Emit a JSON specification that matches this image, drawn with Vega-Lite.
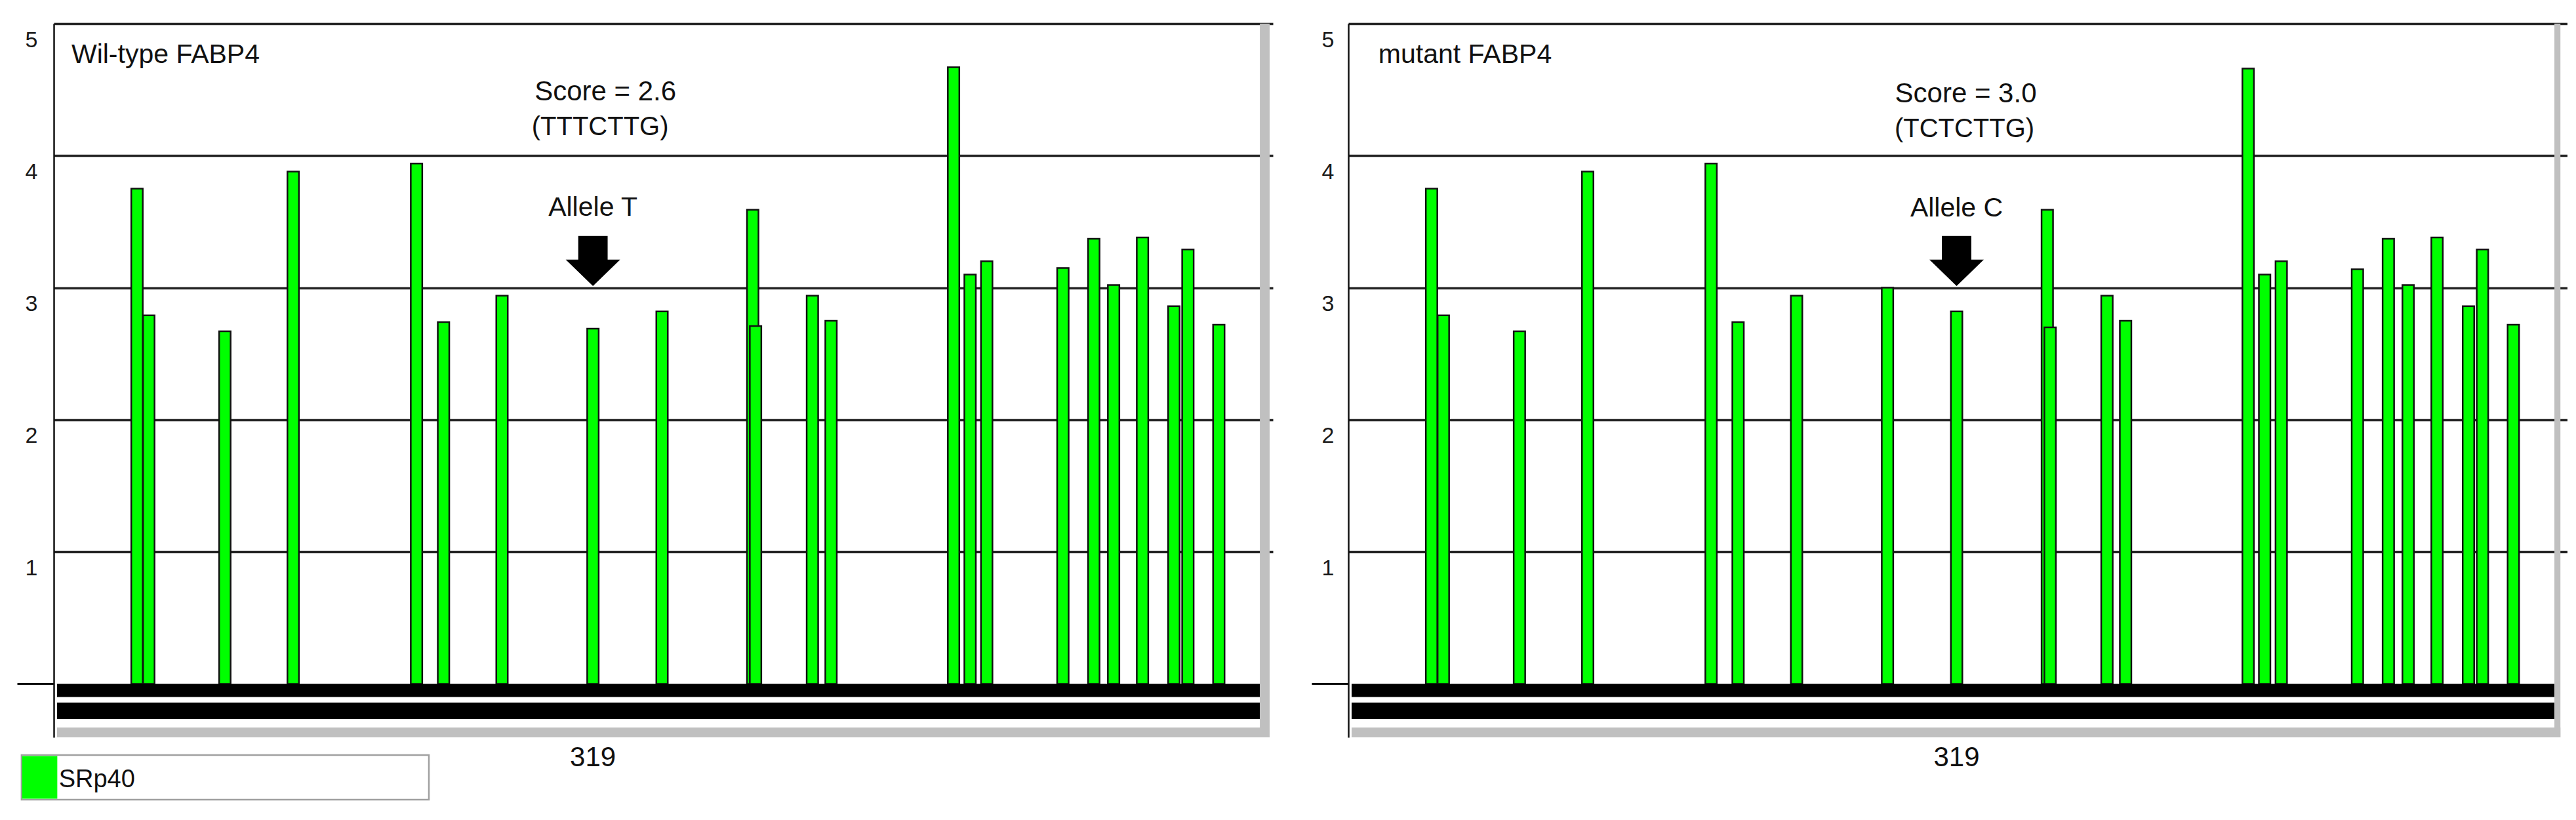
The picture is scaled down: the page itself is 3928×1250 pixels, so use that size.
{
  "$schema": "https://vega.github.io/schema/vega-lite/v6.json",
  "background": "white",
  "padding": {"left": 24, "top": 34, "right": 0, "bottom": 0},
  "spacing": 57,
  "config": {
    "view": {"stroke": null},
    "font": "Liberation Sans",
    "axisX": {"disable": true},
    "text": {"font": "Liberation Sans", "color": "#111111"}
  },
  "datasets": {
    "sites": [
      {"construct": "wild-type", "factor": "SRp40", "position": 6.78, "score": 3.75},
      {"construct": "wild-type", "factor": "SRp40", "position": 7.78, "score": 2.79},
      {"construct": "wild-type", "factor": "SRp40", "position": 14.23, "score": 2.67},
      {"construct": "wild-type", "factor": "SRp40", "position": 20.02, "score": 3.88},
      {"construct": "wild-type", "factor": "SRp40", "position": 30.48, "score": 3.94},
      {"construct": "wild-type", "factor": "SRp40", "position": 32.77, "score": 2.74},
      {"construct": "wild-type", "factor": "SRp40", "position": 37.73, "score": 2.94},
      {"construct": "wild-type", "factor": "SRp40", "position": 45.44, "score": 2.69},
      {"construct": "wild-type", "factor": "SRp40", "position": 51.30, "score": 2.82},
      {"construct": "wild-type", "factor": "SRp40", "position": 58.99, "score": 3.59},
      {"construct": "wild-type", "factor": "SRp40", "position": 59.23, "score": 2.71},
      {"construct": "wild-type", "factor": "SRp40", "position": 64.05, "score": 2.94},
      {"construct": "wild-type", "factor": "SRp40", "position": 65.63, "score": 2.75},
      {"construct": "wild-type", "factor": "SRp40", "position": 76.02, "score": 4.67},
      {"construct": "wild-type", "factor": "SRp40", "position": 77.42, "score": 3.10},
      {"construct": "wild-type", "factor": "SRp40", "position": 78.83, "score": 3.20},
      {"construct": "wild-type", "factor": "SRp40", "position": 85.29, "score": 3.15},
      {"construct": "wild-type", "factor": "SRp40", "position": 87.91, "score": 3.37},
      {"construct": "wild-type", "factor": "SRp40", "position": 89.59, "score": 3.02},
      {"construct": "wild-type", "factor": "SRp40", "position": 92.04, "score": 3.38},
      {"construct": "wild-type", "factor": "SRp40", "position": 94.70, "score": 2.86},
      {"construct": "wild-type", "factor": "SRp40", "position": 95.89, "score": 3.29},
      {"construct": "wild-type", "factor": "SRp40", "position": 98.51, "score": 2.72},
      {"construct": "mutant", "factor": "SRp40", "position": 6.78, "score": 3.75},
      {"construct": "mutant", "factor": "SRp40", "position": 7.78, "score": 2.79},
      {"construct": "mutant", "factor": "SRp40", "position": 14.23, "score": 2.67},
      {"construct": "mutant", "factor": "SRp40", "position": 20.02, "score": 3.88},
      {"construct": "mutant", "factor": "SRp40", "position": 30.48, "score": 3.94},
      {"construct": "mutant", "factor": "SRp40", "position": 32.77, "score": 2.74},
      {"construct": "mutant", "factor": "SRp40", "position": 37.73, "score": 2.94},
      {"construct": "mutant", "factor": "SRp40", "position": 45.44, "score": 3.00},
      {"construct": "mutant", "factor": "SRp40", "position": 51.30, "score": 2.82},
      {"construct": "mutant", "factor": "SRp40", "position": 58.99, "score": 3.59},
      {"construct": "mutant", "factor": "SRp40", "position": 59.23, "score": 2.70},
      {"construct": "mutant", "factor": "SRp40", "position": 64.05, "score": 2.94},
      {"construct": "mutant", "factor": "SRp40", "position": 65.63, "score": 2.75},
      {"construct": "mutant", "factor": "SRp40", "position": 76.02, "score": 4.66},
      {"construct": "mutant", "factor": "SRp40", "position": 77.42, "score": 3.10},
      {"construct": "mutant", "factor": "SRp40", "position": 78.83, "score": 3.20},
      {"construct": "mutant", "factor": "SRp40", "position": 85.29, "score": 3.14},
      {"construct": "mutant", "factor": "SRp40", "position": 87.91, "score": 3.37},
      {"construct": "mutant", "factor": "SRp40", "position": 89.59, "score": 3.02},
      {"construct": "mutant", "factor": "SRp40", "position": 92.04, "score": 3.38},
      {"construct": "mutant", "factor": "SRp40", "position": 94.70, "score": 2.86},
      {"construct": "mutant", "factor": "SRp40", "position": 95.89, "score": 3.29},
      {"construct": "mutant", "factor": "SRp40", "position": 98.51, "score": 2.72}
    ],
    "annotations": [
      {"construct": "wild-type", "title": "Wil-type FABP4", "site": 45.44, "allele": "Allele T", "score_label": "Score = 2.6", "motif": "(TTTCTTG)", "snp": "319"},
      {"construct": "mutant", "title": "mutant FABP4", "site": 51.30, "allele": "Allele C", "score_label": "Score = 3.0", "motif": "(TCTCTTG)", "snp": "319"}
    ],
    "legend": [{"factor": "SRp40"}]
  },
  "hconcat": [
    {
      "width": 1859,
      "height": 1088,
      "layer": [
        {
          "data": {"name": "sites"},
          "transform": [{"filter": "datum.construct == 'wild-type'"}],
          "mark": {"type": "bar", "width": 17.5, "stroke": "#111111", "strokeWidth": 2.5, "clip": false},
          "encoding": {
            "x": {"field": "position", "type": "quantitative", "scale": {"domain": [0, 102.82], "nice": false, "zero": false}, "axis": null},
            "y": {"field": "score", "type": "quantitative", "stack": null, "scale": {"domain": [-0.405, 5], "nice": false, "zero": false},
              "axis": {"values": [0, 1, 2, 3, 4, 5], "title": null, "format": "d", "grid": true,
                "gridColor": {"condition": {"test": "datum.value == 0", "value": "transparent"}, "value": "#262626"},
                "gridWidth": 3.5, "domain": true, "domainColor": "#111111", "domainWidth": 2.5,
                "ticks": true, "tickSize": 56, "tickWidth": 3,
                "tickColor": {"condition": {"test": "datum.value == 0", "value": "#111111"}, "value": "transparent"},
                "labelExpr": "datum.value == 0 ? '' : datum.label",
                "labelFont": "Liberation Sans", "labelFontSize": 34, "labelColor": "#1a1a1a",
                "labelPadding": -31, "labelOffset": 25, "labelBaseline": "middle", "labelAlign": "right"}},
            "y2": {"datum": 0},
            "color": {"field": "factor", "type": "nominal", "scale": {"domain": ["SRp40"], "range": ["#00ff00"]}, "legend": null}
          }
        },
        {"data": {"values": [{}]}, "mark": {"type": "rect", "color": "#000000"},
          "encoding": {"x": {"datum": 0}, "x2": {"datum": 101.99}, "y": {"datum": 0}, "y2": {"datum": -0.1}}},
        {"data": {"values": [{}]}, "mark": {"type": "rect", "color": "#000000"},
          "encoding": {"x": {"datum": 0}, "x2": {"datum": 101.99}, "y": {"datum": -0.142}, "y2": {"datum": -0.266}}},
        {"data": {"values": [{}]}, "mark": {"type": "rect", "color": "#c0c0c0"},
          "encoding": {"x": {"datum": 101.99}, "x2": {"datum": 102.82}, "y": {"datum": 5}, "y2": {"datum": -0.405}}},
        {"data": {"values": [{}]}, "mark": {"type": "rect", "color": "#c0c0c0"},
          "encoding": {"x": {"datum": 0}, "x2": {"datum": 102.82}, "y": {"datum": -0.33}, "y2": {"datum": -0.405}}},
        {
          "data": {"name": "annotations"},
          "transform": [{"filter": "datum.construct == 'wild-type'"}],
          "mark": {"type": "text", "align": "left", "baseline": "middle", "fontSize": 41, "clip": false},
          "encoding": {"x": {"datum": 1.22}, "y": {"datum": 4.762}, "text": {"field": "title"}}
        },
        {
          "data": {"name": "annotations"},
          "transform": [{"filter": "datum.construct == 'wild-type'"}],
          "mark": {"type": "text", "align": "center", "baseline": "middle", "fontSize": 42, "dx": 19},
          "encoding": {"x": {"field": "site", "type": "quantitative"}, "y": {"datum": 4.485}, "text": {"field": "score_label"}}
        },
        {
          "data": {"name": "annotations"},
          "transform": [{"filter": "datum.construct == 'wild-type'"}],
          "mark": {"type": "text", "align": "center", "baseline": "middle", "fontSize": 40, "dx": 11},
          "encoding": {"x": {"field": "site", "type": "quantitative"}, "y": {"datum": 4.215}, "text": {"field": "motif"}}
        },
        {
          "data": {"name": "annotations"},
          "transform": [{"filter": "datum.construct == 'wild-type'"}],
          "mark": {"type": "text", "align": "center", "baseline": "middle", "fontSize": 41},
          "encoding": {"x": {"field": "site", "type": "quantitative"}, "y": {"datum": 3.604}, "text": {"field": "allele"}}
        },
        {
          "data": {"name": "annotations"},
          "transform": [{"filter": "datum.construct == 'wild-type'"}],
          "mark": {"type": "point", "shape": "M-0.54,-0.92L0.54,-0.92L0.54,-0.05L1,-0.05L0,0.92L-1,-0.05L-0.54,-0.05Z", "size": 6889, "filled": true, "color": "#000000", "opacity": 1, "strokeWidth": 0},
          "encoding": {"x": {"field": "site", "type": "quantitative"}, "y": {"datum": 3.202}}
        },
        {
          "data": {"name": "annotations"},
          "transform": [{"filter": "datum.construct == 'wild-type'"}],
          "mark": {"type": "text", "align": "center", "baseline": "middle", "fontSize": 42, "clip": false},
          "encoding": {"x": {"field": "site", "type": "quantitative"}, "y": {"datum": -0.559}, "text": {"field": "snp"}}
        },
        {"data": {"name": "legend"}, "mark": {"type": "rect", "fill": "#ffffff", "stroke": "#a0a0a0", "strokeWidth": 2.5, "clip": false},
          "encoding": {"x": {"datum": -3.01}, "x2": {"datum": 31.53}, "y": {"datum": -0.539}, "y2": {"datum": -0.877}}},
        {"data": {"name": "legend"}, "mark": {"type": "rect", "clip": false},
          "encoding": {"x": {"datum": -2.96}, "x2": {"datum": 0.02}, "y": {"datum": -0.546}, "y2": {"datum": -0.870},
            "color": {"field": "factor", "type": "nominal", "scale": {"domain": ["SRp40"], "range": ["#00ff00"]}, "legend": null}}},
        {"data": {"name": "legend"}, "mark": {"type": "text", "align": "left", "baseline": "middle", "fontSize": 38, "clip": false},
          "encoding": {"x": {"datum": 0.15}, "y": {"datum": -0.728}, "text": {"field": "factor"}}}
      ]
    },
    {
      "width": 1859,
      "height": 1088,
      "layer": [
        {
          "data": {"name": "sites"},
          "transform": [{"filter": "datum.construct == 'mutant'"}],
          "mark": {"type": "bar", "width": 17.5, "stroke": "#111111", "strokeWidth": 2.5, "clip": false},
          "encoding": {
            "x": {"field": "position", "type": "quantitative", "scale": {"domain": [0, 102.82], "nice": false, "zero": false}, "axis": null},
            "y": {"field": "score", "type": "quantitative", "stack": null, "scale": {"domain": [-0.405, 5], "nice": false, "zero": false},
              "axis": {"values": [0, 1, 2, 3, 4, 5], "title": null, "format": "d", "grid": true,
                "gridColor": {"condition": {"test": "datum.value == 0", "value": "transparent"}, "value": "#262626"},
                "gridWidth": 3.5, "domain": true, "domainColor": "#111111", "domainWidth": 2.5,
                "ticks": true, "tickSize": 56, "tickWidth": 3,
                "tickColor": {"condition": {"test": "datum.value == 0", "value": "#111111"}, "value": "transparent"},
                "labelExpr": "datum.value == 0 ? '' : datum.label",
                "labelFont": "Liberation Sans", "labelFontSize": 34, "labelColor": "#1a1a1a",
                "labelPadding": -34, "labelOffset": 25, "labelBaseline": "middle", "labelAlign": "right"}},
            "y2": {"datum": 0},
            "color": {"field": "factor", "type": "nominal", "scale": {"domain": ["SRp40"], "range": ["#00ff00"]}, "legend": null}
          }
        },
        {"data": {"values": [{}]}, "mark": {"type": "rect", "color": "#000000"},
          "encoding": {"x": {"datum": 0}, "x2": {"datum": 101.99}, "y": {"datum": 0}, "y2": {"datum": -0.1}}},
        {"data": {"values": [{}]}, "mark": {"type": "rect", "color": "#000000"},
          "encoding": {"x": {"datum": 0}, "x2": {"datum": 101.99}, "y": {"datum": -0.142}, "y2": {"datum": -0.266}}},
        {"data": {"values": [{}]}, "mark": {"type": "rect", "color": "#c0c0c0"},
          "encoding": {"x": {"datum": 101.99}, "x2": {"datum": 102.5}, "y": {"datum": 5}, "y2": {"datum": -0.405}}},
        {"data": {"values": [{}]}, "mark": {"type": "rect", "color": "#c0c0c0"},
          "encoding": {"x": {"datum": 0}, "x2": {"datum": 102.5}, "y": {"datum": -0.33}, "y2": {"datum": -0.405}}},
        {
          "data": {"name": "annotations"},
          "transform": [{"filter": "datum.construct == 'mutant'"}],
          "mark": {"type": "text", "align": "left", "baseline": "middle", "fontSize": 41, "clip": false},
          "encoding": {"x": {"datum": 2.27}, "y": {"datum": 4.762}, "text": {"field": "title"}}
        },
        {
          "data": {"name": "annotations"},
          "transform": [{"filter": "datum.construct == 'mutant'"}],
          "mark": {"type": "text", "align": "center", "baseline": "middle", "fontSize": 42, "dx": 14},
          "encoding": {"x": {"field": "site", "type": "quantitative"}, "y": {"datum": 4.47}, "text": {"field": "score_label"}}
        },
        {
          "data": {"name": "annotations"},
          "transform": [{"filter": "datum.construct == 'mutant'"}],
          "mark": {"type": "text", "align": "center", "baseline": "middle", "fontSize": 40, "dx": 12},
          "encoding": {"x": {"field": "site", "type": "quantitative"}, "y": {"datum": 4.2}, "text": {"field": "motif"}}
        },
        {
          "data": {"name": "annotations"},
          "transform": [{"filter": "datum.construct == 'mutant'"}],
          "mark": {"type": "text", "align": "center", "baseline": "middle", "fontSize": 41},
          "encoding": {"x": {"field": "site", "type": "quantitative"}, "y": {"datum": 3.6}, "text": {"field": "allele"}}
        },
        {
          "data": {"name": "annotations"},
          "transform": [{"filter": "datum.construct == 'mutant'"}],
          "mark": {"type": "point", "shape": "M-0.54,-0.92L0.54,-0.92L0.54,-0.05L1,-0.05L0,0.92L-1,-0.05L-0.54,-0.05Z", "size": 6889, "filled": true, "color": "#000000", "opacity": 1, "strokeWidth": 0},
          "encoding": {"x": {"field": "site", "type": "quantitative"}, "y": {"datum": 3.202}}
        },
        {
          "data": {"name": "annotations"},
          "transform": [{"filter": "datum.construct == 'mutant'"}],
          "mark": {"type": "text", "align": "center", "baseline": "middle", "fontSize": 42, "clip": false},
          "encoding": {"x": {"field": "site", "type": "quantitative"}, "y": {"datum": -0.559}, "text": {"field": "snp"}}
        }
      ]
    }
  ]
}
